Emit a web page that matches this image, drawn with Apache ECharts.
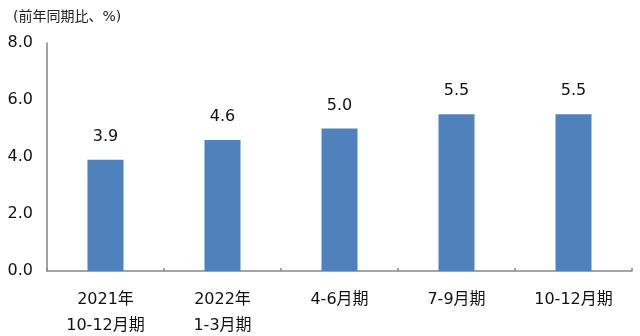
<!DOCTYPE html>
<html><head><meta charset="utf-8">
<script src="https://cdn.jsdelivr.net/npm/echarts@6/dist/echarts.min.js"></script>
<style>html,body{margin:0;padding:0;background:#fff}#c{width:640px;height:336px}</style>
</head><body><div id="c"></div>
<script>
var categories = ['2021年\n10-12月期', '2022年\n1-3月期', '4-6月期', '7-9月期', '10-12月期'];
var values = [3.9, 4.6, 5.0, 5.5, 5.5];
var yTicks = [0, 2, 4, 6, 8];
var unitLabel = '(前年同期比、%)';

var FONT = '"DejaVu Sans", "Noto Sans CJK JP", sans-serif';
var chart = echarts.init(document.getElementById('c'), null, {renderer: 'canvas'});
chart.setOption({
  animation: false,
  backgroundColor: '#fff',
  textStyle: {fontFamily: FONT},
  title: {
    text: unitLabel, left: 8, top: 5,
    textStyle: {fontSize: 14, fontWeight: 'normal', color: '#222', fontFamily: FONT}
  },
  grid: {left: 47, right: 8, top: 43, bottom: 65, containLabel: false, outerBoundsMode: 'none'},
  xAxis: {
    type: 'category', data: categories,
    axisLine: {lineStyle: {color: '#868686', width: 1.5}},
    axisTick: {show: true, inside: true, length: 3, lineStyle: {color: '#868686', width: 1.5}},
    axisLabel: {fontSize: 16, color: '#111', margin: 16, lineHeight: 26, fontFamily: FONT}
  },
  yAxis: {
    type: 'value', min: yTicks[0], max: yTicks[yTicks.length - 1], interval: 2,
    axisLine: {show: true, lineStyle: {color: '#868686', width: 1.5}},
    axisTick: {show: false},
    splitLine: {show: false},
    axisLabel: {fontSize: 16, color: '#111', margin: 14, formatter: function (v) { return v.toFixed(1); }, fontFamily: FONT}
  },
  series: [{
    type: 'bar', data: values, barWidth: 36,
    itemStyle: {color: '#4f81bd'},
    label: {show: true, position: 'top', distance: 15, fontSize: 16, color: '#111',
      formatter: function (p) { return p.value.toFixed(1); }, fontFamily: FONT}
  }]
});
</script></body></html>
